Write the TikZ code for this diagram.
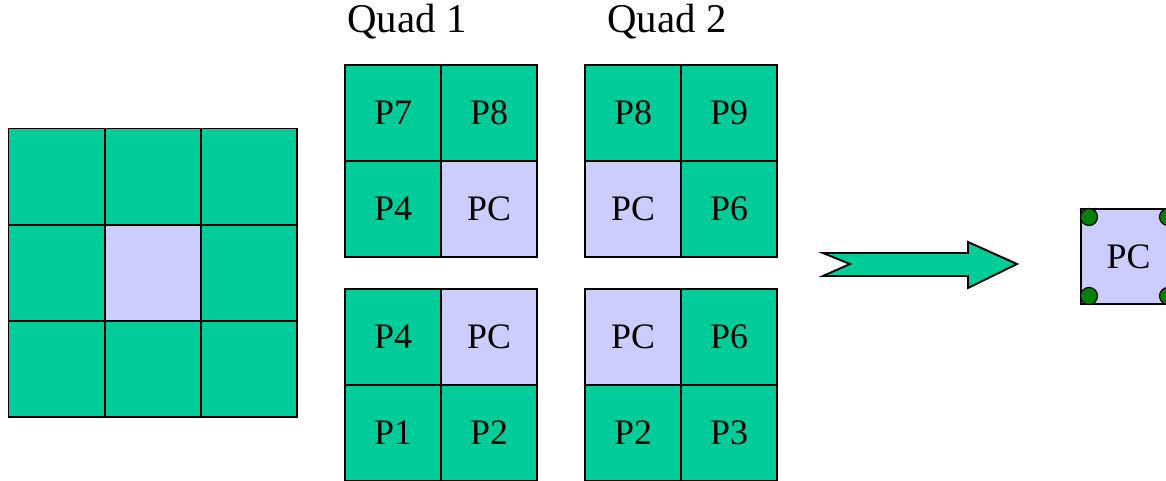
\documentclass[tikz,border=0pt]{standalone}
\usepackage{fontspec}
\setmainfont{Liberation Serif}
\definecolor{tilegreen}{HTML}{00CC99}
\definecolor{tilelav}{HTML}{CCCCFF}
\definecolor{dotgreen}{HTML}{008000}
\begin{document}
\begin{tikzpicture}[x=1bp,y=-1bp,
  tile/.style={draw=black,line width=1.9bp,minimum size=96bp,inner sep=0pt,
               font=\fontsize{36}{40}\selectfont},
  gtile/.style={tile,fill=tilegreen},
  ltile/.style={tile,fill=tilelav},
  quadlabel/.style={font=\fontsize{41}{46}\selectfont,inner sep=0pt},
  corner/.style={circle,draw=black,line width=1.2bp,fill=dotgreen,minimum size=17bp,inner sep=0pt}]
\useasboundingbox (0,0) rectangle (1166,481);
\clip (0,0) rectangle (1166,481);

% 3x3 neighbourhood with the centre pixel
\foreach \r in {0,1,2}{
  \foreach \c in {0,1,2}{
    \pgfmathtruncatemacro{\ctr}{(\r==1)&&(\c==1)}
    \ifnum\ctr=1
      \node[ltile,minimum size=96.2bp] (n\r\c) at (56.6+96.2*\c,176.6+96.2*\r) {};
    \else
      \node[gtile,minimum size=96.2bp] (n\r\c) at (56.6+96.2*\c,176.6+96.2*\r) {};
    \fi
  }
}

% quad labels
\node[quadlabel] (lq1) at (407,22) {Quad 1};
\node[quadlabel] (lq2) at (667,22) {Quad 2};

% quad 1, upper
\node[gtile] (a7) at (393,113) {P7};
\node[gtile] (a8) at (489,113) {P8};
\node[gtile] (a4) at (393,209) {P4};
\node[ltile] (ac) at (489,209) {PC};
% quad 2, upper
\node[gtile] (b8) at (633,113) {P8};
\node[gtile] (b9) at (729,113) {P9};
\node[ltile] (bc) at (633,209) {PC};
\node[gtile] (b6) at (729,209) {P6};
% quad 1, lower
\node[gtile] (c4) at (393,337) {P4};
\node[ltile] (cc) at (489,337) {PC};
\node[gtile] (c1) at (393,433) {P1};
\node[gtile] (c2) at (489,433) {P2};
% quad 2, lower
\node[ltile] (dc) at (633,337) {PC};
\node[gtile] (d6) at (729,337) {P6};
\node[gtile] (d2) at (633,433) {P2};
\node[gtile] (d3) at (729,433) {P3};

% notched block arrow
\draw[line width=1.9bp,fill=tilegreen,line join=miter]
  (823,253) -- (968,253) -- (968,242) -- (1017,264) -- (968,288)
  -- (968,276) -- (823,276) -- (850,264) -- cycle;

% resulting pixel with its four corner samples
\node[ltile,minimum size=95bp] (pc) at (1128.5,256.5) {PC};
\node[corner] (k1) at (1089,217) {};
\node[corner] (k2) at (1168,217) {};
\node[corner] (k3) at (1089,296) {};
\node[corner] (k4) at (1168,296) {};
\end{tikzpicture}
\end{document}
